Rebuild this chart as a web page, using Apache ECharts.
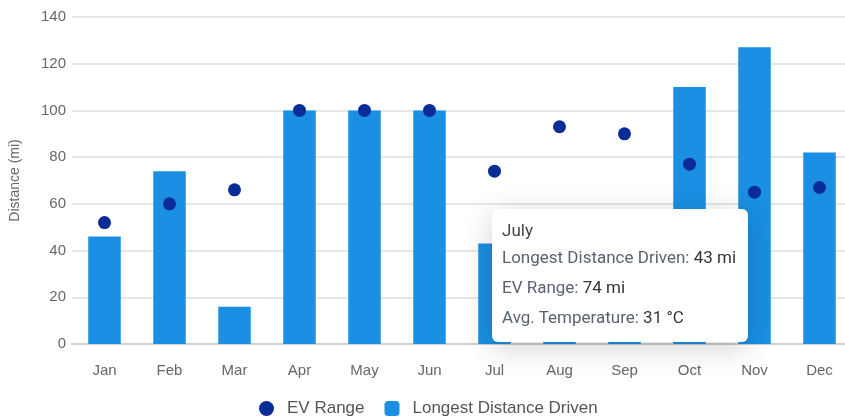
<!DOCTYPE html>
<html>
<head>
<meta charset="utf-8">
<script src="https://cdn.jsdelivr.net/npm/echarts@6/dist/echarts.min.js"></script>
<style>
  html, body { margin: 0; padding: 0; background: #fff; }
  #chart { width: 845px; height: 416px; }
</style>
</head>
<body>
<div id="chart"></div>
<script>
// Monthly driving summary
const months = ['Jan', 'Feb', 'Mar', 'Apr', 'May', 'Jun', 'Jul', 'Aug', 'Sep', 'Oct', 'Nov', 'Dec'];
const monthNames = ['January', 'February', 'March', 'April', 'May', 'June', 'July', 'August', 'September', 'October', 'November', 'December'];
const longestDistance = [46, 74, 16, 100, 100, 100, 43, 38, 48, 110, 127, 82];
const evRange = [52, 60, 66, 100, 100, 100, 74, 93, 90, 77, 65, 67];
const avgTemperature = [null, null, null, null, null, null, 31, null, null, null, null, null];
const yTicks = [0, 20, 40, 60, 80, 100, 120, 140];

const BAR_COLOR = '#1a8fe3';
const DOT_COLOR = '#0a2c96';

const chart = echarts.init(document.getElementById('chart'), null, { renderer: 'canvas' });

chart.setOption({
  animation: false,
  textStyle: { fontFamily: 'Liberation Sans, Arial, sans-serif' },
  grid: { left: 72, right: -7, top: 17, bottom: 72, outerBoundsMode: 'none', containLabel: false },
  legend: {
    bottom: -6,
    left: 254,
    itemGap: 20,
    itemWidth: 15,
    itemHeight: 15,
    textStyle: { color: '#555', fontSize: 17, padding: [0, 0, 0, 8] },
    data: [
      { name: 'EV Range', icon: 'circle' },
      { name: 'Longest Distance Driven', icon: 'roundRect' }
    ]
  },
  tooltip: {
    trigger: 'axis',
    alwaysShowContent: true,
    axisPointer: { type: 'none' },
    position: [492, 209],
    padding: [10, 10, 10, 10],
    borderWidth: 0,
    backgroundColor: '#fff',
    extraCssText: 'box-shadow: 0 6px 30px rgba(0,0,0,0.18); border-radius: 6px; width: 236px; height: 113px; white-space: nowrap;',
    textStyle: { fontFamily: 'Roboto, sans-serif', fontSize: 17, color: '#555' },
    formatter: function (params) {
      const i = params[0].dataIndex;
      const row = (label, val) =>
        '<div style="line-height:30px;color:#5a6170">' + label + ': <span style="color:#333">' + val + '</span></div>';
      return '<div style="line-height:24px;color:#444;margin-top:-1px">' + monthNames[i] + '</div>' +
        row('Longest Distance Driven', longestDistance[i] + ' mi') +
        row('EV Range', evRange[i] + ' mi') +
        row('Avg. Temperature', avgTemperature[i] + ' °C');
    }
  },
  xAxis: {
    type: 'category',
    data: months,
    axisLine: { show: true, lineStyle: { color: '#cfcfcf', width: 2 } },
    axisTick: { show: false },
    axisLabel: { color: '#666', fontSize: 15, margin: 19 }
  },
  yAxis: {
    type: 'value',
    min: yTicks[0],
    max: yTicks[yTicks.length - 1],
    interval: yTicks[1] - yTicks[0],
    name: 'Distance (mi)',
    nameLocation: 'middle',
    nameGap: 50,
    nameTextStyle: { color: '#666', fontSize: 14 },
    axisLine: { show: false },
    axisTick: { show: false },
    axisLabel: { color: '#666', fontSize: 15, margin: 6 },
    splitLine: { lineStyle: { color: '#e6e6e6', width: 2 } }
  },
  series: [
    {
      name: 'Longest Distance Driven',
      type: 'bar',
      data: longestDistance,
      barWidth: '50%',
      itemStyle: { color: BAR_COLOR },
      emphasis: { disabled: true }
    },
    {
      name: 'EV Range',
      type: 'scatter',
      data: evRange,
      symbol: 'circle',
      symbolSize: 13,
      itemStyle: { color: DOT_COLOR, opacity: 1 },
      emphasis: { disabled: true },
      z: 3
    }
  ]
});

chart.dispatchAction({ type: 'showTip', seriesIndex: 0, dataIndex: 6 });
</script>
</body>
</html>
